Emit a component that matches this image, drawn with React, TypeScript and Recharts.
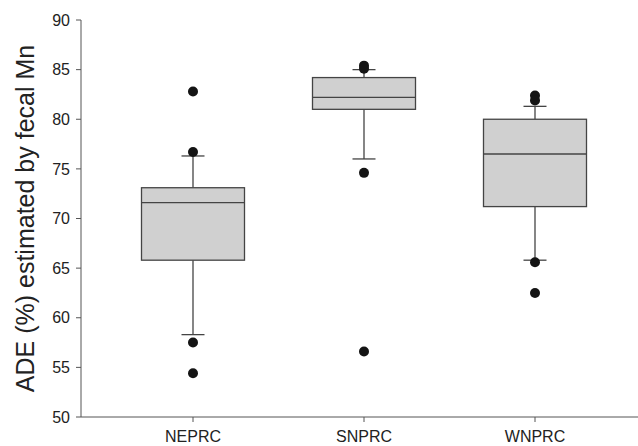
import { ComposedChart, Bar, Scatter, XAxis, YAxis } from "recharts";

const categories = ["NEPRC", "SNPRC", "WNPRC"];
const whiskerLow = [58.3, 76.0, 65.8];
const q1 = [65.8, 81.0, 71.2];
const median = [71.6, 82.2, 76.5];
const q3 = [73.1, 84.2, 80.0];
const whiskerHigh = [76.3, 85.0, 81.3];
const outliers = [
  [82.8, 76.7, 57.5, 54.4],
  [85.4, 85.1, 74.6, 56.6],
  [82.4, 81.9, 65.6, 62.5],
];
const yTicks = [50, 55, 60, 65, 70, 75, 80, 85, 90];

const rows = categories.map((name, i) => ({
  name,
  box: [q1[i], q3[i]],
  low: whiskerLow[i],
  q1: q1[i],
  med: median[i],
  q3: q3[i],
  high: whiskerHigh[i],
  o1: outliers[i][0],
  o2: outliers[i][1],
  o3: outliers[i][2],
  o4: outliers[i][3],
}));

const stroke = "#444";

// box, median and whiskers, positioned from the bar's own scaled rect
const BoxShape = (props: any) => {
  const { x, y, width, height, payload } = props;
  const ppu = height / (payload.q3 - payload.q1);
  const toY = (v: number) => y + (payload.q3 - v) * ppu;
  const cx = x + width / 2;
  const cap = 11.5;
  return (
    <g>
      <line x1={cx} x2={cx} y1={toY(payload.high)} y2={y} stroke={stroke} strokeWidth={1.3} />
      <line x1={cx} x2={cx} y1={y + height} y2={toY(payload.low)} stroke={stroke} strokeWidth={1.3} />
      <line x1={cx - cap} x2={cx + cap} y1={toY(payload.high)} y2={toY(payload.high)} stroke={stroke} strokeWidth={1.3} />
      <line x1={cx - cap} x2={cx + cap} y1={toY(payload.low)} y2={toY(payload.low)} stroke={stroke} strokeWidth={1.3} />
      <rect x={x} y={y} width={width} height={height} fill="#d0d0d0" stroke={stroke} strokeWidth={1.3} />
      <line x1={x} x2={x + width} y1={toY(payload.med)} y2={toY(payload.med)} stroke={stroke} strokeWidth={1.3} />
    </g>
  );
};

const Dot = (props: any) => <circle cx={props.cx} cy={props.cy} r={5} fill="#141414" />;

const tickStyle = { fill: "#222", fontSize: 16, fontFamily: "Liberation Sans, Arial, sans-serif" };

export default function App() {
  return (
    <div style={{ position: "absolute", left: 0, top: 0, background: "#fff" }}>
      <ComposedChart
        width={638}
        height={446}
        data={rows}
        margin={{ top: 20, right: 0, bottom: 0, left: 0 }}
      >
        <XAxis
          dataKey="name"
          type="category"
          padding={{ left: 26.5, right: 17.5 }}
          height={29}
          stroke="#555"
          tickSize={5}
          tickMargin={9}
          tick={tickStyle}
        />
        <YAxis
          type="number"
          domain={[50, 90]}
          ticks={yTicks}
          width={81}
          stroke="#555"
          tickSize={5}
          tickMargin={6}
          tick={tickStyle}
          label={{
            value: "ADE (%) estimated by fecal Mn",
            angle: -90,
            position: "insideLeft",
            offset: 25,
            style: {
              textAnchor: "middle",
              fill: "#222",
              fontSize: 25,
              fontFamily: "Liberation Sans, Arial, sans-serif",
            },
          }}
        />
        <Bar dataKey="box" barSize={103} shape={BoxShape} isAnimationActive={false} />
        <Scatter dataKey="o1" shape={Dot} isAnimationActive={false} />
        <Scatter dataKey="o2" shape={Dot} isAnimationActive={false} />
        <Scatter dataKey="o3" shape={Dot} isAnimationActive={false} />
        <Scatter dataKey="o4" shape={Dot} isAnimationActive={false} />
      </ComposedChart>
    </div>
  );
}
